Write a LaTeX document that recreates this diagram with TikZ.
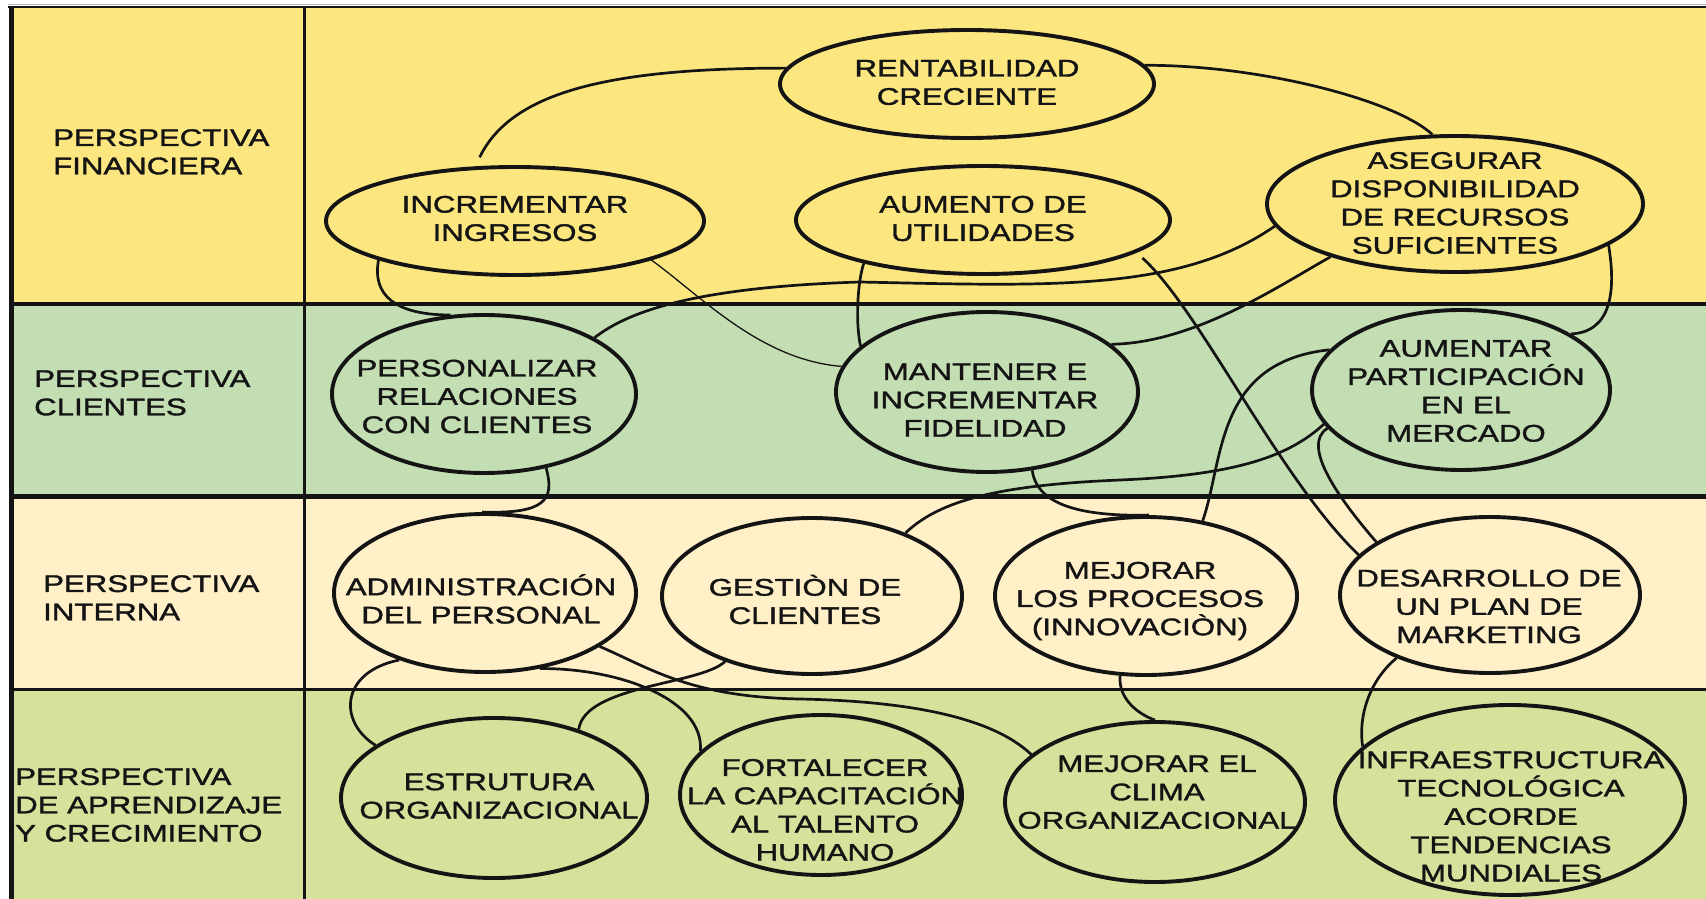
\documentclass[tikz,border=0pt]{standalone}
\usepackage{fontspec}
\usetikzlibrary{shapes.geometric}
\newfontfamily\dfont[FakeStretch=1.3,FakeBold=1.5]{Liberation Sans}
\definecolor{ink}{HTML}{141414}
\definecolor{finY}{HTML}{FCE680}
\definecolor{cliG}{HTML}{C4DEB4}
\definecolor{intC}{HTML}{FFF0C8}
\definecolor{aprG}{HTML}{D4E29B}
\begin{document}
\begin{tikzpicture}[x=1pt,y=-1pt,
  goal/.style={ellipse, draw=ink, line width=3.9pt, inner sep=0pt},
  gtxt/.style={align=center, inner sep=0pt, text=ink,
    font=\dfont\fontsize{24pt}{28.3pt}\selectfont},
  lane/.style={align=left, anchor=north west, inner sep=0pt, text=ink,
    font=\dfont\fontsize{24pt}{28.3pt}\selectfont},
  link/.style={draw=ink, line width=2.7pt},
  thinlink/.style={draw=ink, line width=1.3pt}]
\useasboundingbox (0,0) rectangle (1706,899);
\clip (0,0) rectangle (1706,899);

% bands
\fill[white] (0,0) rectangle (1706,899);
\fill[finY] (14,8) rectangle (1706,304);
\fill[cliG] (14,304) rectangle (1706,497);
\fill[intC] (14,497) rectangle (1706,689);
\fill[aprG] (14,689) rectangle (1706,899);

% frame and grid
\draw[gray!55, line width=1.4pt] (8,4.3) -- (1706,4.3);
\draw[ink, line width=2.6pt] (8,7) -- (1706,7);
\draw[ink, line width=5pt] (11,5.7) -- (11,899);
\draw[ink, line width=2.8pt] (304.5,7) -- (304.5,899);
\draw[ink, line width=4.5pt] (11,304) -- (1706,304);
\draw[ink, line width=4.5pt] (11,496.5) -- (1706,496.5);
\draw[ink, line width=2.6pt] (11,689.3) -- (1706,689.3);

% perspective labels
\node[lane] (l-fin) at (53,129) {PERSPECTIVA\\FINANCIERA};
\node[lane] (l-cli) at (34,370) {PERSPECTIVA\\CLIENTES};
\node[lane] (l-int) at (43,575) {PERSPECTIVA\\INTERNA};
\node[lane] (l-apr) at (15,768) {PERSPECTIVA\\DE APRENDIZAJE\\Y CRECIMIENTO};

% objectives
\node[goal, minimum width=374pt, minimum height=108pt] (rent) at (967,84) {};
\node[gtxt] (rent-t) at (967,82.5) {RENTABILIDAD\\CRECIENTE};
\node[goal, minimum width=378pt, minimum height=108pt] (inc) at (515,221) {};
\node[gtxt] (inc-t) at (515,218.5) {INCREMENTAR\\INGRESOS};
\node[goal, minimum width=374pt, minimum height=108pt] (aum) at (983,220) {};
\node[gtxt] (aum-t) at (983,218.5) {AUMENTO DE\\UTILIDADES};
\node[goal, minimum width=376pt, minimum height=136pt] (ase) at (1455,204) {};
\node[gtxt] (ase-t) at (1455,203) {ASEGURAR\\DISPONIBILIDAD\\DE RECURSOS\\SUFICIENTES};

\node[goal, minimum width=304pt, minimum height=158pt] (per) at (484,394) {};
\node[gtxt] (per-t) at (477,396.5) {PERSONALIZAR\\RELACIONES\\CON CLIENTES};
\node[goal, minimum width=302pt, minimum height=160pt] (man) at (987,392) {};
\node[gtxt] (man-t) at (985,400) {MANTENER E\\INCREMENTAR\\FIDELIDAD};
\node[goal, minimum width=298pt, minimum height=160pt] (part) at (1461,390) {};
\node[gtxt] (part-t) at (1466,391) {AUMENTAR\\PARTICIPACIÓN\\EN EL\\MERCADO};

\node[goal, minimum width=302pt, minimum height=158pt] (adm) at (485,593) {};
\node[gtxt] (adm-t) at (481,599) {ADMINISTRACIÓN\\DEL PERSONAL};
\node[goal, minimum width=300pt, minimum height=156pt] (ges) at (812,596) {};
\node[gtxt] (ges-t) at (805,599.5) {GESTIÒN DE\\CLIENTES};
\node[goal, minimum width=302pt, minimum height=158pt] (pro) at (1146,596) {};
\node[gtxt] (pro-t) at (1140,601) {MEJORAR\\LOS PROCESOS\\(INNOVACIÒN)};
\node[goal, minimum width=300pt, minimum height=156pt] (des) at (1490,595) {};
\node[gtxt] (des-t) at (1489,606.5) {DESARROLLO DE\\UN PLAN DE\\MARKETING};

\node[goal, minimum width=306pt, minimum height=160pt] (est) at (494,798) {};
\node[gtxt] (est-t) at (499,796) {ESTRUTURA\\ORGANIZACIONAL};
\node[goal, minimum width=282pt, minimum height=160pt] (for) at (821,795) {};
\node[gtxt] (for-t) at (825,810) {FORTALECER\\LA CAPACITACIÓN\\AL TALENTO\\HUMANO};
\node[goal, minimum width=300pt, minimum height=160pt] (cli) at (1155,802) {};
\node[gtxt] (cli-t) at (1157,792) {MEJORAR EL\\CLIMA\\ORGANIZACIONAL};
\node[goal, minimum width=350pt, minimum height=190pt] (inf) at (1510,800) {};
\node[gtxt] (inf-t) at (1511,816.5) {INFRAESTRUCTURA\\TECNOLÓGICA\\ACORDE\\TENDENCIAS\\MUNDIALES};

% links between objectives
\draw[link, shorten <=10pt] (inc.126) .. controls (510,95) and (600,68) .. (rent.175);
\draw[link] (rent.6) .. controls (1260,65) and (1395,100) .. (ase.108);
\draw[link] (inc.196) .. controls (372,295) and (395,315) .. (per.113);
\draw[thinlink] (inc.-16) .. controls (700,295) and (760,360) .. (man.170);
\draw[link] (per.27) .. controls (630,310) and (700,287) .. (860,282)
  .. controls (1050,286) and (1180,292) .. (ase.187);
\draw[link] (aum.-160) .. controls (858,280) and (855,320) .. (man.160);
\draw[link, shorten <=8pt] (aum.-12) .. controls (1200,310) and (1280,480) .. (des.163);
\draw[link] (ase.203) .. controls (1280,285) and (1195,343) .. (man.21);
\draw[link] (ase.-15) .. controls (1616,290) and (1612,332) .. (part.27);
\draw[link] (part.163) .. controls (1215,362) and (1224,460) .. (pro.53);
\draw[link] (part.194) .. controls (1290,455) and (1240,475) .. (1120,480)
  .. controls (1000,485) and (940,500) .. (ges.34);
\draw[link] (man.-60) .. controls (1036,500) and (1070,517) .. (pro.88);
\draw[link] (part.196) .. controls (1300,445) and (1340,500) .. (des.155);
\draw[link] (per.-50) .. controls (555,500) and (545,514) .. (adm.92);
\draw[link] (adm.-142) .. controls (340,672) and (338,722) .. (est.156);
\draw[link] (ges.-143) .. controls (700,685) and (585,685) .. (est.39);
\draw[link] (adm.-54) .. controls (620,668) and (705,700) .. (for.160);
\draw[link] (adm.-25) .. controls (650,668) and (690,697) .. (800,699)
  .. controls (900,701) and (990,715) .. (cli.159);
\draw[link] (pro.-108) .. controls (1118,700) and (1140,715) .. (cli.90);
\draw[link] (des.-146) .. controls (1370,680) and (1358,715) .. (inf.160);
\end{tikzpicture}
\end{document}
